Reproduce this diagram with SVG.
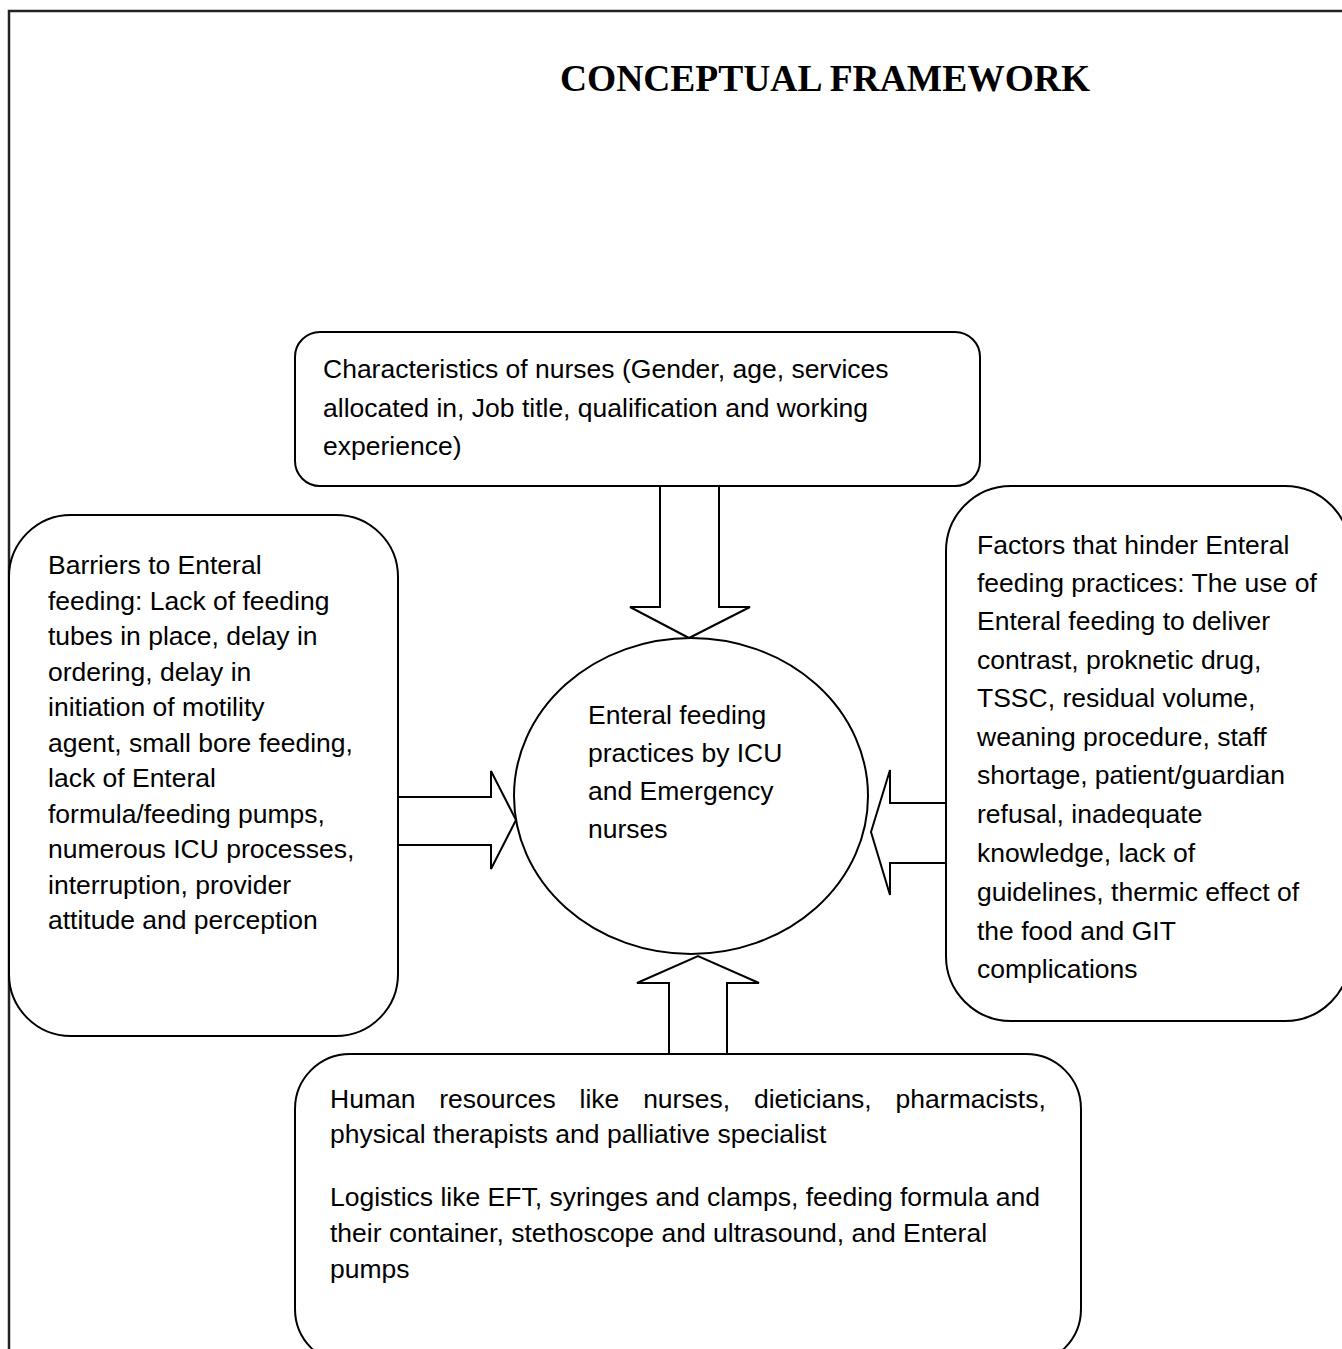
<svg xmlns="http://www.w3.org/2000/svg" width="1342" height="1349" viewBox="0 0 1342 1349">
<style>
.b{fill:#fff;stroke:#000;stroke-width:2}
.t{font-family:"Liberation Sans",Arial,sans-serif;font-size:26.5px;fill:#000}
.h{font-family:"Liberation Serif","Times New Roman",serif;font-size:37.5px;font-weight:bold;fill:#000}
.a{fill:#fff;stroke:#000;stroke-width:2;stroke-linejoin:miter}
</style>
<rect width="1342" height="1349" fill="#fff"/>
<g id="frame">
<path d="M9,1349 V11 H1342" fill="none" stroke="#222" stroke-width="2.5"/>
</g>
<text class="h" x="825" y="91" text-anchor="middle">CONCEPTUAL FRAMEWORK</text>
<g id="connectors">
<path class="a" d="M660,486 V607 H630 L689,638 L750,607 H719 V486"/>
<path class="a" d="M398,797 H491 V771 L516,820 L491,869 V845 H398"/>
<path class="a" d="M946,803 H890 V770 L871,832 L890,895 V863 H946"/>
<path class="a" d="M669,1054 V983 H637 L698,956 L759,983 H727 V1054"/>
</g>
<g id="center">
<ellipse class="b" cx="691" cy="796" rx="177" ry="158" fill="none"/>
<text class="t" x="588" y="724">Enteral feeding</text>
<text class="t" x="588" y="762">practices by ICU</text>
<text class="t" x="588" y="800">and Emergency</text>
<text class="t" x="588" y="838">nurses</text>
</g>
<g id="top">
<rect class="b" x="295" y="332" width="685" height="154" rx="25"/>
<text class="t" x="323" y="378">Characteristics of nurses (Gender, age, services</text>
<text class="t" x="323" y="417">allocated in, Job title, qualification and working</text>
<text class="t" x="323" y="455">experience)</text>
</g>
<g id="left">
<rect class="b" x="9" y="515" width="389" height="521" rx="62"/>
<text class="t" x="48" y="574">Barriers to Enteral</text>
<text class="t" x="48" y="610">feeding: Lack of feeding</text>
<text class="t" x="48" y="645">tubes in place, delay in</text>
<text class="t" x="48" y="681">ordering, delay in</text>
<text class="t" x="48" y="716">initiation of motility</text>
<text class="t" x="48" y="752">agent, small bore feeding,</text>
<text class="t" x="48" y="787">lack of Enteral</text>
<text class="t" x="48" y="823">formula/feeding pumps,</text>
<text class="t" x="48" y="858">numerous ICU processes,</text>
<text class="t" x="48" y="894">interruption, provider</text>
<text class="t" x="48" y="929">attitude and perception</text>
</g>
<g id="right">
<rect class="b" x="946" y="486" width="404" height="535" rx="65"/>
<text class="t" x="977" y="554">Factors that hinder Enteral</text>
<text class="t" x="977" y="592">feeding practices: The use of</text>
<text class="t" x="977" y="630">Enteral feeding to deliver</text>
<text class="t" x="977" y="669">contrast, proknetic drug,</text>
<text class="t" x="977" y="707">TSSC, residual volume,</text>
<text class="t" x="977" y="746">weaning procedure, staff</text>
<text class="t" x="977" y="784">shortage, patient/guardian</text>
<text class="t" x="977" y="823">refusal, inadequate</text>
<text class="t" x="977" y="862">knowledge, lack of</text>
<text class="t" x="977" y="901">guidelines, thermic effect of</text>
<text class="t" x="977" y="940">the food and GIT</text>
<text class="t" x="977" y="978">complications</text>
</g>
<g id="bottom">
<rect class="b" x="295" y="1054" width="786" height="310" rx="55"/>
<text class="t" x="330" y="1108" word-spacing="16.5">Human resources like nurses, dieticians, pharmacists,</text>
<text class="t" x="330" y="1143">physical therapists and palliative specialist</text>
<text class="t" x="330" y="1206">Logistics like EFT, syringes and clamps, feeding formula and</text>
<text class="t" x="330" y="1242">their container, stethoscope and ultrasound, and Enteral</text>
<text class="t" x="330" y="1278">pumps</text>
</g>
</svg>
